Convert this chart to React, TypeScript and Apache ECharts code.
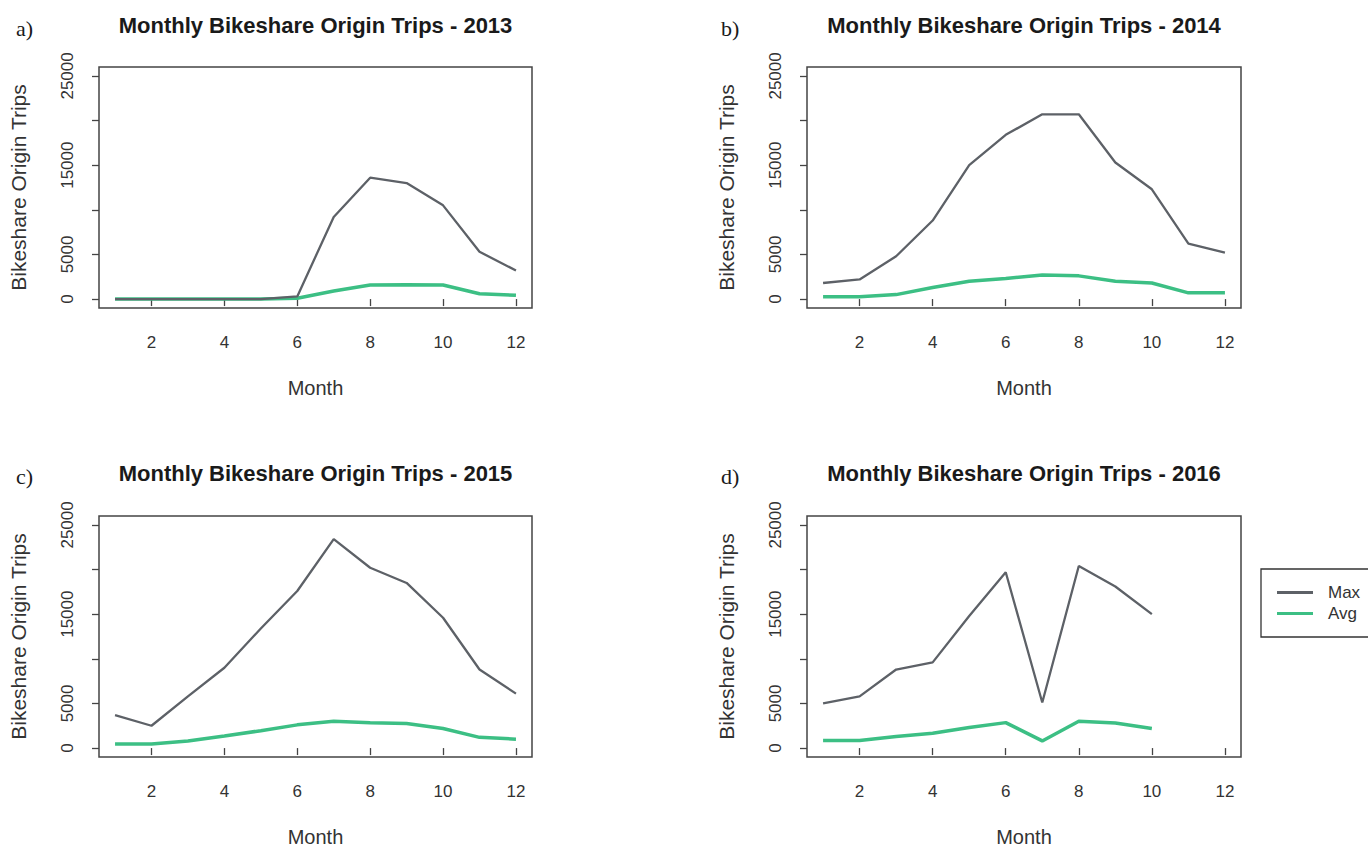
import React, { useEffect, useRef } from "react";
import * as echarts from "echarts";

const months = [1, 2, 3, 4, 5, 6, 7, 8, 9, 10, 11, 12];
const years = ["2013", "2014", "2015", "2016"];
const panelTags = ["a)", "b)", "c)", "d)"];

const max2013 = [0, 0, 0, 0, 0, 300, 9200, 13600, 13000, 10500, 5300, 3200];
const avg2013 = [0, 0, 0, 0, 0, 100, 900, 1580, 1600, 1580, 600, 420];
const max2014 = [1800, 2200, 4800, 8800, 15000, 18400, 20700, 20700, 15300, 12300, 6200, 5200];
const avg2014 = [250, 250, 500, 1300, 2000, 2300, 2700, 2600, 2000, 1800, 700, 700];
const max2015 = [3700, 2500, 5800, 9000, 13400, 17600, 23400, 20200, 18500, 14600, 8800, 6100];
const avg2015 = [450, 450, 800, 1350, 1950, 2600, 3000, 2850, 2750, 2200, 1200, 1000];
const max2016 = [5000, 5800, 8800, 9600, 14800, 19700, 5100, 20400, 18100, 15000];
const avg2016 = [850, 850, 1300, 1650, 2300, 2850, 800, 3000, 2800, 2200];

const maxSeries = [max2013, max2014, max2015, max2016];
const avgSeries = [avg2013, avg2014, avg2015, avg2016];

const xTickValues = [2, 4, 6, 8, 10, 12];
const yTickValues = [0, 5000, 10000, 15000, 20000, 25000];
const yLabelValues = [0, 5000, 15000, 25000];

const MAX_COLOR = "#5d6167";
const AVG_COLOR = "#3cbf84";
const FONT = "Liberation Sans, Arial, sans-serif";

// panel geometry [left, top, width, height]
const grids = [
  [99, 67, 433, 241],
  [807, 67, 434, 241],
  [99, 516, 433, 241],
  [807, 516, 434, 241],
];

export default function App() {
  const ref = useRef<HTMLDivElement>(null);
  useEffect(() => {
    if (!ref.current) return;
    const chart = echarts.init(ref.current, undefined, { renderer: "svg" });

    const grid = grids.map(([l, t, w, h]) => ({
      left: l,
      top: t,
      width: w,
      height: h,
      show: true,
      borderColor: "#444",
      borderWidth: 1.5,
      backgroundColor: "transparent",
      containLabel: false,
    }));

    const xAxis = grids.map((_, i) => ({
      type: "value",
      gridIndex: i,
      min: 0.56,
      max: 12.44,
      axisLine: { show: false },
      splitLine: { show: false },
      axisTick: {
        show: true,
        inside: false,
        length: 7,
        customValues: xTickValues,
        lineStyle: { color: "#444", width: 1.3 },
      },
      axisLabel: {
        customValues: xTickValues,
        margin: 26,
        fontSize: 17,
        color: "#333",
        fontFamily: FONT,
        formatter: (v: number) => String(v),
      },
      name: "Month",
      nameLocation: "middle",
      nameGap: 70,
      nameTextStyle: { fontSize: 20, color: "#333", fontFamily: FONT },
    }));

    const yAxis = grids.map((_, i) => ({
      type: "value",
      gridIndex: i,
      min: -1000,
      max: 26000,
      axisLine: { show: false },
      splitLine: { show: false },
      axisTick: {
        show: true,
        inside: false,
        length: 7,
        customValues: yTickValues,
        lineStyle: { color: "#444", width: 1.3 },
      },
      axisLabel: {
        customValues: yLabelValues,
        rotate: 90,
        margin: 23,
        fontSize: 17,
        color: "#333",
        fontFamily: FONT,
        formatter: (v: number) => String(v),
      },
      name: "Bikeshare Origin Trips",
      nameLocation: "middle",
      nameGap: 70,
      nameTextStyle: { fontSize: 21, color: "#333", fontFamily: FONT },
    }));

    const series: any[] = [];
    for (let i = 0; i < 4; i++) {
      series.push({
        name: "Avg",
        type: "line",
        xAxisIndex: i,
        yAxisIndex: i,
        showSymbol: false,
        color: AVG_COLOR,
        lineStyle: { color: AVG_COLOR, width: 3.5 },
        data: avgSeries[i].map((v, k) => [months[k], v]),
      });
      series.push({
        name: "Max",
        type: "line",
        xAxisIndex: i,
        yAxisIndex: i,
        showSymbol: false,
        color: MAX_COLOR,
        lineStyle: { color: MAX_COLOR, width: 2.3 },
        data: maxSeries[i].map((v, k) => [months[k], v]),
      });
    }

    const titleY = [25, 25, 473, 473];
    const tagX = [16, 721, 16, 721];
    const graphic: any[] = [];
    grids.forEach(([l, t, w], i) => {
      graphic.push({
        type: "text",
        x: l + w / 2,
        y: titleY[i],
        style: {
          text: "Monthly Bikeshare Origin Trips - " + years[i],
          align: "center",
          verticalAlign: "middle",
          font: "bold 22px " + FONT,
          fill: "#1a1a1a",
        },
      });
      graphic.push({
        type: "text",
        x: tagX[i],
        y: titleY[i] + 3,
        style: {
          text: panelTags[i],
          align: "left",
          verticalAlign: "middle",
          font: "22px Liberation Serif, Times New Roman, serif",
          fill: "#1a1a1a",
        },
      });
    });

    chart.setOption({
      animation: false,
      backgroundColor: "#ffffff",
      grid,
      xAxis,
      yAxis,
      series,
      graphic,
      legend: {
        data: ["Max", "Avg"],
        orient: "vertical",
        left: 1261,
        top: 569,
        padding: [15, 40, 15, 16],
        itemGap: 4,
        itemWidth: 36,
        itemHeight: 3,
        icon: "rect",
        borderColor: "#333",
        borderWidth: 1.3,
        selectedMode: false,
        textStyle: {
          fontSize: 17,
          color: "#333",
          fontFamily: FONT,
          padding: [0, 0, 0, 10],
        },
      },
    });
    return () => chart.dispose();
  }, []);
  return (
    <div
      ref={ref}
      style={{ position: "fixed", left: 0, top: 0, width: 1368, height: 848, background: "#fff" }}
    />
  );
}
